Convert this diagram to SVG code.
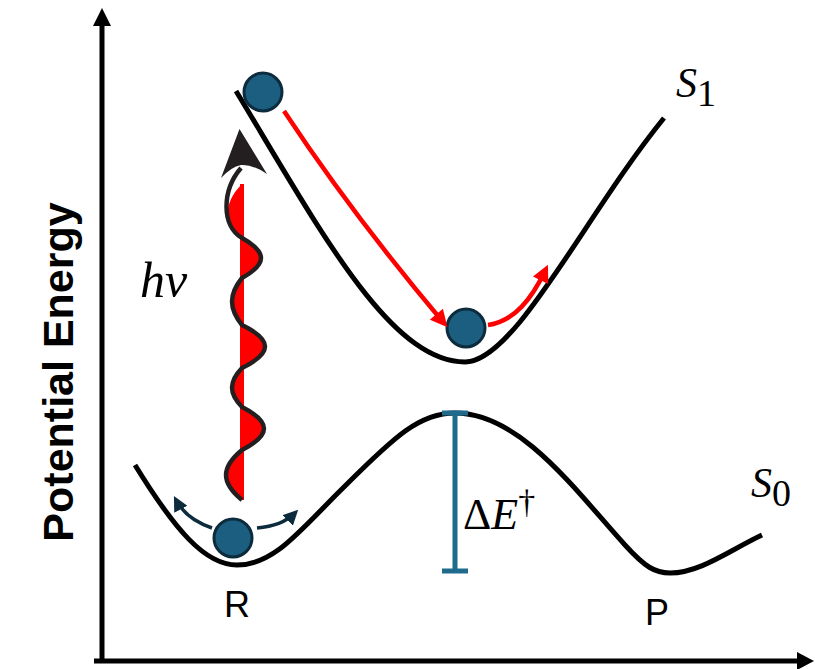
<svg xmlns="http://www.w3.org/2000/svg" width="815" height="669" viewBox="0 0 815 669">
<style>
.curve{fill:none;stroke:#000;stroke-width:5;stroke-linecap:butt;stroke-linejoin:round}
.ball{fill:#1b5e80;stroke:#0c2b3c;stroke-width:3}
.red{fill:none;stroke:#ff0000;stroke-width:4.5}
.dark{fill:none;stroke:#0c2b3c;stroke-width:3.5}
.math{font-family:"Liberation Serif","Times New Roman",serif;fill:#000}
.sans{font-family:"Liberation Sans",Arial,sans-serif;fill:#000}
</style>
<defs>
<marker id="redHead" viewBox="0 0 10 10" refX="6" refY="5" markerWidth="18" markerHeight="17" markerUnits="userSpaceOnUse" orient="auto">
<path d="M0,0 L10,5 L0,10 z" fill="#ff0000"/>
</marker>
<marker id="darkHead" viewBox="0 0 10 10" refX="7" refY="5" markerWidth="15" markerHeight="15" markerUnits="userSpaceOnUse" orient="auto">
<path d="M0,0 L10,5 L0,10 z" fill="#0c2b3c"/>
</marker>
</defs>

<g id="axes">
<line x1="102" y1="663" x2="102" y2="22" stroke="#000" stroke-width="5"/>
<polygon points="102,8 93,26 111,26" fill="#000"/>
<line x1="94" y1="661" x2="800" y2="661" stroke="#000" stroke-width="5"/>
<polygon points="814,661 797,652 797,670" fill="#000"/>
<text class="sans" font-weight="bold" font-size="43" text-anchor="middle" transform="translate(73,372) rotate(-90)">Potential Energy</text>
</g>

<g id="S1">
<path class="curve" d="M236,91 C320,230 390,362 465,362 C515,362 585,215 664,118"/>
<text class="math" x="676" y="97" font-size="42"><tspan font-style="italic">S</tspan><tspan font-size="38" dy="9">1</tspan></text>
</g>

<g id="S0">
<path class="curve" d="M135,465 C175,530 205,565 237,565 C275,565 300,530 345,486 C395,436 420,413 455,413 C520,413 575,490 625,545 C645,567 655,573 670,573 C700,573 730,550 762,535"/>
<text class="math" x="751" y="497" font-size="42"><tspan font-style="italic">S</tspan><tspan font-size="38" dy="9">0</tspan></text>
</g>

<g id="photon">
<rect x="240" y="184" width="4" height="316" fill="#ff0000"/>
<path d="M242,500 C220.7,482.5 220.7,467.5 242,450 C271.3,435 271.3,422 242,407 C228.7,393.4 228.7,381.7 242,368 C272.7,353 272.7,340 242,325 C228.7,308.5 228.7,294.5 242,278 C267.3,264 267.3,252 242,238 C224,226 222,204 242,184 Z" fill="#ff0000"/>
<path d="M242,500 C220.7,482.5 220.7,467.5 242,450 C271.3,435 271.3,422 242,407 C228.7,393.4 228.7,381.7 242,368 C272.7,353 272.7,340 242,325 C228.7,308.5 228.7,294.5 242,278 C267.3,264 267.3,252 242,238 C221,226 222,190 241,168" fill="none" stroke="#231f20" stroke-width="4.5"/>
<path d="M239.5,129 L267,174 Q252,164 241,165 Q231,167 221,178 Z" fill="#231f20"/>
<text class="math" x="140" y="297" font-size="50" font-style="italic">hν</text>
</g>

<g id="barrier">
<line x1="455" y1="413" x2="455" y2="571" stroke="#1e6b8c" stroke-width="5"/>
<line x1="442" y1="413" x2="468" y2="413" stroke="#1e6b8c" stroke-width="5"/>
<line x1="442" y1="571" x2="468" y2="571" stroke="#1e6b8c" stroke-width="5"/>
<text class="math" x="463" y="529" font-size="44">Δ<tspan font-style="italic">E</tspan><tspan font-size="34" dy="-16">†</tspan></text>
</g>

<g id="ball-top"><circle class="ball" cx="263" cy="92" r="19"/></g>
<g id="ball-min"><circle class="ball" cx="466" cy="328" r="19"/></g>
<g id="ball-R"><circle class="ball" cx="233" cy="538" r="19"/></g>

<g id="label-R"><text class="sans" x="237" y="617" font-size="36" text-anchor="middle">R</text></g>
<g id="label-P"><text class="sans" x="657" y="625" font-size="36" text-anchor="middle">P</text></g>

<g id="connectors">
<path class="red" d="M284,111 Q352,214 443,322" marker-end="url(#redHead)"/>
<path class="red" d="M488,325 C515,321 532,298 545,271" marker-end="url(#redHead)"/>
<path class="dark" d="M212,528 Q186,519 176,500" marker-end="url(#darkHead)"/>
<path class="dark" d="M257,528 Q282,526 295,513" marker-end="url(#darkHead)"/>
</g>
</svg>
